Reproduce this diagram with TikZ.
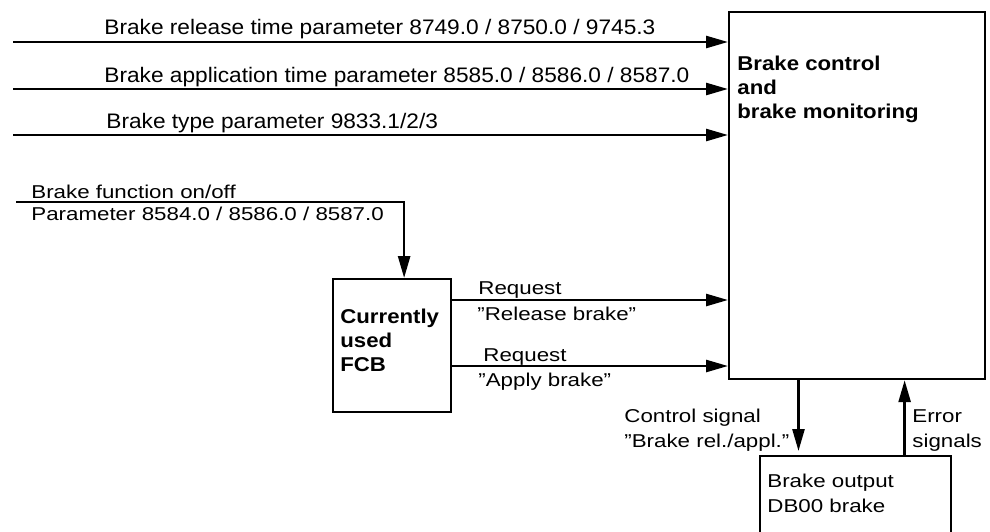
\documentclass[tikz,border=0pt]{standalone}
\usepackage{fontspec}
\setmainfont{Liberation Sans}[FakeStretch=1.2,BoldFeatures={FakeStretch=1.11}]
\newfontfamily\widefont{Liberation Sans}[FakeStretch=1.08]
\usetikzlibrary{arrows.meta,positioning,calc}
\newcommand{\qd}{\symbol{34}}

\begin{document}
\begin{tikzpicture}[x=0.5pt,y=-0.5pt,>={Triangle[length=11pt,width=6pt]},
  every node/.style={font=\fontsize{9.3}{12.5}\selectfont,inner sep=0pt},
  blk/.style={draw,line width=1.1pt,anchor=north west},
  sig/.style={->,line width=1.3pt},
  txt/.style={anchor=base west,align=left},
  toptxt/.style={txt,font=\widefont\fontsize{10.5}{12}\selectfont}]
\useasboundingbox (0,0) rectangle (990,531);
\clip (0,0) rectangle (990,531);
\node (ctrl) [blk,minimum width=128pt,minimum height=183.5pt] at (728,11) {};
\node (fcb) [blk,minimum width=59pt,minimum height=66.5pt] at (332,278) {};
\node (out) [blk,minimum width=95.5pt,minimum height=75pt] at (759,455) {};
% base anchor = last line
\node (ctrltxt) [txt,font=\bfseries] at (737,118) {Brake control\\and\\brake monitoring};
\node (fcbtxt) [txt,font=\bfseries] at (340,371) {Currently\\used\\FCB};
\node (outtxt) [txt] at (767,512) {Brake output\\DB00 brake};
\coordinate (rel) at (13,42);
\coordinate (app) at (13,89);
\coordinate (typ) at (13,135);
\coordinate (fn) at (16,202);
\node (reltxt) [toptxt] at (104,34) {Brake release time parameter 8749.0 / 8750.0 / 9745.3};
\node (apptxt) [toptxt] at (104,82) {Brake application time parameter 8585.0 / 8586.0 / 8587.0};
\node (typtxt) [toptxt] at (106,128) {Brake type parameter 9833.1/2/3};
\draw[sig] (rel)--(rel -| ctrl.west);
\draw[sig] (app)--(app -| ctrl.west);
\draw[sig] (typ)--(typ -| ctrl.west);
\node (fntxt) [txt] at (31,198) {Brake function on/off};
\node (partxt) [txt] at (31,220) {Parameter 8584.0 / 8586.0 / 8587.0};
\draw[sig] (fn) -| ($(fcb.north west)!0.6!(fcb.north east)$);
\coordinate (rq1) at ([yshift=-11pt]fcb.north east);
\coordinate (rq2) at ([yshift=-44pt]fcb.north east);
\draw[sig] (rq1)--(rq1 -| ctrl.west);
\draw[sig] (rq2)--(rq2 -| ctrl.west);
\node (rq1a) [txt] at (478,294) {Request};
\node (rq1b) [txt] at (477,320) {\qd Release brake\qd};
\node (rq2a) [txt] at (483,361) {Request};
\node (rq2b) [txt] at (478,386) {\qd Apply brake\qd};
\coordinate (cs) at ($(ctrl.south west)!0.273!(ctrl.south east)$);
\coordinate (es) at ($(ctrl.south west)!0.684!(ctrl.south east)$);
\draw[sig] (cs)--([yshift=2pt]cs |- out.north);
\draw[sig] (es |- out.north)--(es);
\node (cstxt) [txt] at (624,447) {Control signal\\\qd Brake rel./appl.\qd};
\node (estxt) [txt] at (912,447) {Error\\signals};
\end{tikzpicture}
\end{document}
